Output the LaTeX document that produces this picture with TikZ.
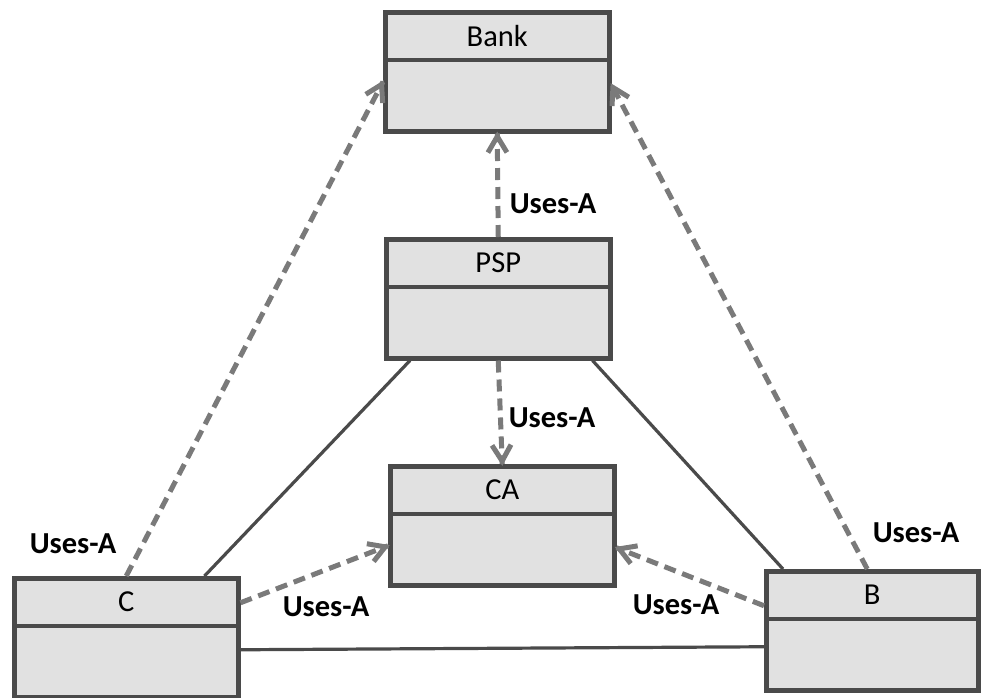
\documentclass[tikz,border=0pt]{standalone}
\usepackage{fontspec}
\setmainfont{Carlito}
\usetikzlibrary{decorations.markings}
\definecolor{boxgray}{HTML}{4A4A4A}
\definecolor{boxfill}{HTML}{E1E1E1}
\definecolor{dashgray}{HTML}{7A7A7A}
\tikzset{
  classbox/.style={draw=boxgray, fill=boxfill, line width=4.5pt, minimum width=224pt,
    minimum height=119pt, inner sep=0pt, anchor=north west},
  usesa/.style={draw=dashgray, line width=5pt, dash pattern=on 12pt off 7pt,
    postaction={decorate}, decoration={markings, mark=at position 1 with {
      \draw[solid, dashgray, line width=5pt] (-19pt,9.5pt) -- (-3pt,0pt) -- (-19pt,-9.5pt);}}},
  assoc/.style={draw=boxgray, line width=3.2pt},
  uselabel/.style={font=\fontsize{30.5}{32}\selectfont\bfseries, inner sep=0pt},
  classtitle/.style={font=\fontsize{30.5}{32}\selectfont, inner sep=0pt}
}
% [options] name, top left corner, title
\newcommand{\umlclass}[4][]{%
  \node[classbox,#1] (#2) at (#3) {};
  \draw[boxgray, line width=3.5pt] ([yshift=-50pt]#2.north west) -- ([yshift=-50pt]#2.north east);
  \node[classtitle] (#2-title) at ([yshift=-26pt]#2.north) {#4};
}
\begin{document}
\begin{tikzpicture}[x=1pt,y=-1pt]
    \useasboundingbox[fill=white] (0,0) rectangle (982,697);
    %% classes
    \umlclass{bank}{383,10}{Bank}
    \umlclass{psp}{384,237}{PSP}
    \umlclass{ca}{388,464}{CA}
    \umlclass{c}{12,576}{C}
    \umlclass[minimum width=212pt]{b}{764,569}{B}
    %% associations
    \draw[assoc] ([xshift=26pt]psp.south west) -- ([xshift=-36pt]c.north east);
    \draw[assoc] ([xshift=-20pt]psp.south east) -- ([xshift=19pt]b.north west);
    \draw[assoc] ([yshift=-12pt]c.east) -- ([yshift=-16pt]b.west);
    %% uses-a
    \draw[usesa] (psp.north) -- (bank.south);
    \draw[usesa] (psp.south) -- (ca.north);
    \draw[usesa] (c.north) -- ([yshift=-10pt]bank.west);
    \draw[usesa] ([xshift=-5pt]b.north) -- ([yshift=-13pt]bank.east);
    \draw[usesa] ([yshift=35pt]c.east) -- ([yshift=-20pt]ca.west);
    \draw[usesa] ([yshift=25pt]b.west) -- ([yshift=-22pt]ca.east);
    %% labels
    \node[uselabel] (l-bank) at (553,204) {Uses-A};
    \node[uselabel] (l-ca) at (552,418) {Uses-A};
    \node[uselabel] (l-cbank) at (73,544) {Uses-A};
    \node[uselabel] (l-cca) at (326,607) {Uses-A};
    \node[uselabel] (l-bbank) at (916,533) {Uses-A};
    \node[uselabel] (l-bca) at (676,605) {Uses-A};
\end{tikzpicture}
\end{document}
